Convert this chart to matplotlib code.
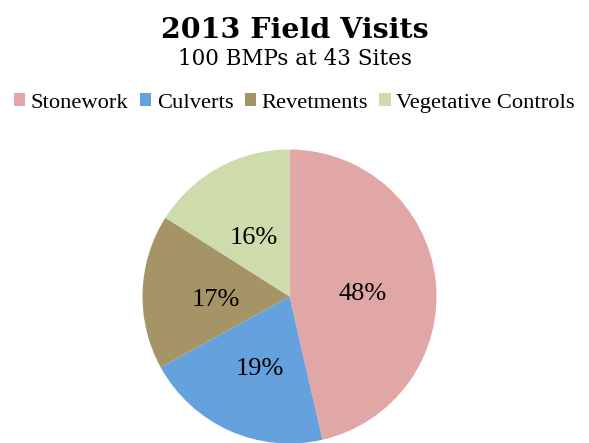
import matplotlib.pyplot as plt

categories = ['Stonework', 'Culverts', 'Revetments', 'Vegetative Controls']
# wedge sizes as drawn in the picture, and the labels printed on them
wedge_sizes = [46.4, 20.6, 17.0, 16.0]
pct_labels = ['48%', '19%', '17%', '16%']
colors = ['#E1A7A6', '#65A1DC', '#A59566', '#CEDBAB']

title = '2013 Field Visits'
subtitle = '100 BMPs at 43 Sites'

plt.rcParams['font.family'] = ['Liberation Serif', 'DejaVu Serif']

fig = plt.figure(figsize=(5.89, 4.43), dpi=100)
W, H = 589, 443
cx, cy, r = 289.5, 296.5, 147
ax = fig.add_axes([(cx - r) / W, (H - cy - r) / H, 2 * r / W, 2 * r / H])

labels_iter = iter(pct_labels)
wedges, texts, autotexts = ax.pie(
    wedge_sizes, colors=colors, startangle=90, counterclock=False,
    autopct=lambda p: next(labels_iter), pctdistance=0.5,
    textprops={'fontsize': 19, 'color': 'black'})
for t in autotexts:
    x, y = t.get_position()
    t.set_position((x, y - 0.04))
ax.set_xlim(-1, 1)
ax.set_ylim(-1, 1)
ax.set_aspect('equal')

fig.text(0.5, 1 - 30 / H, title, ha='center', va='center',
         fontsize=20.5, fontweight='bold', family='DejaVu Serif')
fig.text(0.5, 1 - 59 / H, subtitle, ha='center', va='center',
         fontsize=15.5, family='DejaVu Serif')

fig.legend(wedges, categories, loc='center', bbox_to_anchor=(0.5, 1 - 103 / H),
           ncol=4, frameon=False, fontsize=16.2, handlelength=0.5,
           handleheight=0.5, handletextpad=0.25, columnspacing=0.5,
           borderpad=0)

fig.savefig('out.png', dpi=100)
